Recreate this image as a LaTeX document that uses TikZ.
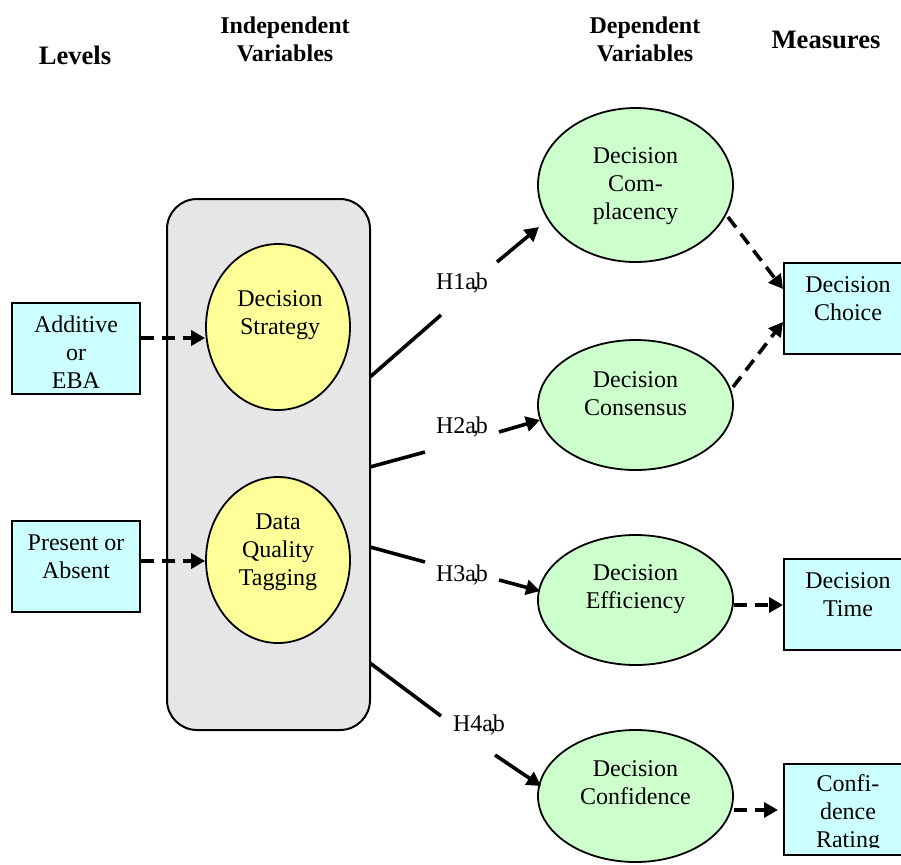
\documentclass[tikz,border=0pt]{standalone}
\usepackage{fontspec}
\setmainfont{Liberation Serif}
\usetikzlibrary{arrows.meta,shapes.geometric}
\definecolor{grayfill}{HTML}{E6E6E6}
\definecolor{yelfill}{HTML}{FFFF99}
\definecolor{grnfill}{HTML}{CCFFCC}
\definecolor{cyanfill}{HTML}{CCFFFF}
\begin{document}
\begin{tikzpicture}[x=0.5pt,y=-0.5pt,
  lvlbox/.style={draw=black, line width=1pt, fill=cyanfill, rectangle, inner sep=0pt},
  yel/.style={draw=black, line width=0.9pt, fill=yelfill, ellipse, inner sep=0pt, minimum width=72pt, minimum height=83pt},
  grn/.style={draw=black, line width=0.9pt, fill=grnfill, ellipse, inner sep=0pt, minimum width=97.5pt},
  txt/.style={align=center, font=\fontsize{12}{14}\selectfont, inner sep=0pt},
  head/.style={align=center, font=\bfseries\fontsize{12}{14}\selectfont, inner sep=0pt},
  bighead/.style={align=center, font=\bfseries\fontsize{13.3}{15}\selectfont, inner sep=0pt},
  hlab/.style={font=\fontsize{12}{14}\selectfont, inner sep=0pt},
  plainline/.style={line width=1.8pt},
  solidarr/.style={line width=1.8pt, -{Triangle[length=7pt,width=7.5pt]}},
  dasharr/.style={line width=1.8pt, dash pattern=on 6.5pt off 4pt, -{Triangle[length=7pt,width=7.5pt]}},
]
\useasboundingbox (0,0) rectangle (901,864);
\clip (0,0) rectangle (901,864);

% headings
\node[bighead] (hlev) at (75,55) {Levels};
\node[head] (hind) at (285,39) {Independent\\Variables};
\node[head] (hdep) at (645,39) {Dependent\\Variables};
\node[bighead] (hmea) at (826,40) {Measures};

% group box
\draw[line width=1pt, fill=grayfill, rounded corners=15pt] (167,199) rectangle (370,730);

% yellow ellipses
\node[yel] (strat) at (278,327) {};
\node[txt] (stratT) at (280,315) {Decision\\Strategy};
\node[yel] (dqt) at (278,560) {};
\node[txt] (dqtT) at (278,552) {Data\\Quality\\Tagging};

% level boxes
\node[lvlbox, minimum width=64pt, minimum height=45.5pt] (add) at (76,348.5) {};
\node[txt] (addT) at (76,352) {Additive\\or\\EBA};
\node[lvlbox, minimum width=64pt, minimum height=45.5pt] (pres) at (76,566.5) {};
\node[txt] (presT) at (76,557) {Present or\\Absent};

\draw[dasharr] (add.east |- 0,338) -- (strat.west |- 0,338);
\draw[dasharr] (pres.east |- 0,561) -- (dqt.west |- 0,561);

% green ellipses
\node[grn, minimum height=77pt] (comp) at (635.5,185) {};
\node[txt] (compT) at (635.5,186) {Decision\\Com-\\placency};
\node[grn, minimum height=65pt] (cons) at (635.5,405) {};
\node[txt] (consT) at (635.5,394) {Decision\\Consensus};
\node[grn, minimum height=65pt] (effi) at (635.5,600) {};
\node[txt] (effiT) at (635.5,589) {Decision\\Efficiency};
\node[grn, minimum height=66pt] (conf) at (635.5,796) {};
\node[txt] (confT) at (635.5,783) {Decision\\Confidence};

% measure boxes
\node[lvlbox, minimum width=64pt, minimum height=45.5pt] (choice) at (848,308.5) {};
\node[txt] (choiceT) at (848,299) {Decision\\Choice};
\node[lvlbox, minimum width=64pt, minimum height=45.5pt] (time) at (848,604.5) {};
\node[txt] (timeT) at (848,595) {Decision\\Time};
\node[lvlbox, minimum width=64pt, minimum height=45.5pt] (rate) at (848,809.5) {};
\begin{scope}
\clip (784,764) rectangle (901,847);
\node[txt] (rateT) at (848,814) {Confi-\\dence\\Rating};
\end{scope}

% hypothesis labels
\node[hlab] (h1) at (462,283) {H1a\kern-1.5pt,\kern-1.5pt b};
\node[hlab] (h2) at (462,427) {H2a\kern-1.5pt,\kern-1.5pt b};
\node[hlab] (h3) at (462,575) {H3a\kern-1.5pt,\kern-1.5pt b};
\node[hlab] (h4) at (479,725) {H4a\kern-1.5pt,\kern-1.5pt b};

% hypothesis connectors
\coordinate (g1) at (370,377);
\coordinate (g2) at (370,467);
\coordinate (g3) at (370,547);
\coordinate (g4) at (370,663);
\coordinate (a1) at (441,315);
\coordinate (a2) at (425,452);
\coordinate (a3) at (425,562);
\coordinate (a4) at (441,716);
\coordinate (b1) at (497,262);
\coordinate (b2) at (499,432);
\coordinate (b3) at (499,580);
\coordinate (b4) at (495,755);
\coordinate (c1) at (539,227);
\coordinate (c2) at (540,420);
\coordinate (c3) at (540,591);
\coordinate (c4) at (541,786);

\draw[plainline] (g1) -- (a1);
\draw[plainline] (g2) -- (a2);
\draw[plainline] (g3) -- (a3);
\draw[plainline] (g4) -- (a4);
\draw[solidarr] (b1) -- (c1);
\draw[solidarr] (b2) -- (c2);
\draw[solidarr] (b3) -- (c3);
\draw[solidarr] (b4) -- (c4);

% measure connectors
\coordinate (m1) at (728,217);
\coordinate (m2) at (733,387);
\draw[dasharr] (m1) -- (choice.west |- 0,289);
\draw[dasharr] (m2) -- (choice.west |- 0,322);
\draw[dasharr] (effi.east |- 0,605) -- (time.west |- 0,605);
\coordinate (r1) at (778,810);
\draw[dasharr] (conf.east |- 0,810) -- (r1);
\end{tikzpicture}
\end{document}
